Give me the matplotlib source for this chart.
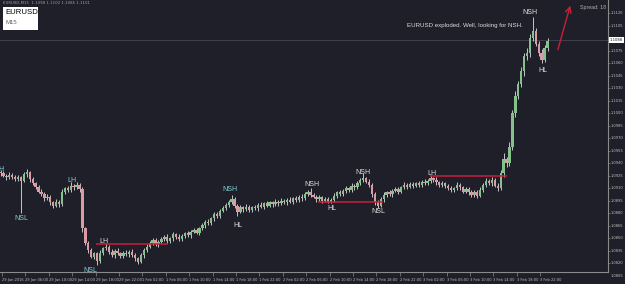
import matplotlib.pyplot as plt
import matplotlib.transforms as mtransforms
from matplotlib.patches import Rectangle

# EURUSD, 30 minute candles (29 Jan - 3 Feb 2016)
first_open = 1.0930
closes = [
    1.0928, 1.0925, 1.0923, 1.0926, 1.0924, 1.0921, 1.0923, 1.0919, 1.0927, 1.0929,
    1.0921, 1.0916, 1.0912, 1.0906, 1.0903, 1.0898, 1.0900, 1.0893, 1.0889, 1.0894,
    1.0891, 1.0906, 1.0910, 1.0908, 1.0913, 1.0911, 1.0914, 1.0909, 1.0862, 1.0845,
    1.0836, 1.0828, 1.0832, 1.0823, 1.0833, 1.0838, 1.0840, 1.0834, 1.0830, 1.0835,
    1.0832, 1.0829, 1.0833, 1.0831, 1.0834, 1.0830, 1.0826, 1.0822, 1.0830, 1.0836,
    1.0840, 1.0845, 1.0848, 1.0843, 1.0846, 1.0849, 1.0852, 1.0847, 1.0850, 1.0855,
    1.0852, 1.0849, 1.0853, 1.0856, 1.0854, 1.0858, 1.0860, 1.0857, 1.0862, 1.0866,
    1.0870, 1.0868, 1.0874, 1.0879, 1.0877, 1.0883, 1.0886, 1.0890, 1.0893, 1.0897,
    1.0889, 1.0882, 1.0887, 1.0885, 1.0888, 1.0884, 1.0887, 1.0886, 1.0890, 1.0888,
    1.0892, 1.0889, 1.0893, 1.0891, 1.0894, 1.0892, 1.0895, 1.0893, 1.0896, 1.0894,
    1.0898, 1.0896, 1.0900, 1.0898, 1.0903, 1.0905, 1.0902, 1.0900, 1.0897, 1.0899,
    1.0895, 1.0897, 1.0894, 1.0896, 1.0901, 1.0905, 1.0903, 1.0907, 1.0910, 1.0908,
    1.0913, 1.0911, 1.0916, 1.0920, 1.0922, 1.0918, 1.0914, 1.0903, 1.0893, 1.0889,
    1.0897, 1.0902, 1.0905, 1.0903, 1.0907, 1.0909, 1.0906, 1.0911, 1.0914, 1.0912,
    1.0915, 1.0913, 1.0916, 1.0914, 1.0918, 1.0916, 1.0919, 1.0922, 1.0920, 1.0917,
    1.0914, 1.0916, 1.0913, 1.0910, 1.0908, 1.0910, 1.0914, 1.0911, 1.0906, 1.0909,
    1.0905, 1.0902, 1.0906, 1.0901, 1.0908, 1.0914, 1.0919, 1.0916, 1.0920, 1.0913,
    1.0910, 1.0928, 1.0945, 1.0940, 1.0960, 1.1000, 1.1020, 1.1035, 1.1050, 1.1068,
    1.1072, 1.1090, 1.1098, 1.1083, 1.1072, 1.1064, 1.1078, 1.1087,
]
# wick lengths in pips above / below the candle body
upper_wick = [
    2, 3, 2, 3, 2, 2, 3, 2, 3, 4,
    2, 3, 2, 2, 3, 2, 3, 2, 2, 3,
    2, 3, 2, 3, 4, 2, 3, 2, 3, 2,
    2, 3, 2, 2, 3, 2, 5, 2, 3, 2,
    3, 2, 2, 3, 2, 3, 2, 2, 3, 2,
    3, 2, 3, 2, 2, 3, 2, 3, 2, 3,
    2, 3, 2, 2, 3, 2, 3, 2, 2, 3,
    2, 3, 2, 3, 2, 2, 3, 2, 3, 5,
    2, 2, 3, 2, 3, 2, 2, 3, 2, 3,
    2, 3, 2, 2, 3, 2, 3, 2, 2, 3,
    2, 3, 2, 3, 2, 3, 5, 2, 2, 3,
    2, 3, 2, 2, 3, 2, 3, 2, 3, 2,
    3, 2, 3, 2, 6, 2, 3, 2, 2, 3,
    2, 3, 2, 3, 2, 2, 3, 2, 3, 2,
    3, 2, 2, 3, 2, 3, 2, 4, 2, 3,
    2, 3, 2, 2, 3, 2, 3, 2, 2, 3,
    2, 3, 2, 2, 3, 2, 3, 2, 3, 2,
    3, 4, 7, 3, 5, 4, 6, 3, 5, 4,
    6, 5, 17, 4, 3, 5, 4, 3,
]
lower_wick = [
    3, 2, 3, 2, 3, 2, 2, 39, 2, 3,
    3, 2, 3, 2, 2, 3, 2, 3, 3, 2,
    3, 2, 3, 2, 2, 3, 2, 3, 4, 3,
    3, 2, 3, 5, 2, 3, 2, 3, 2, 3,
    2, 3, 2, 2, 3, 2, 3, 3, 2, 3,
    2, 2, 3, 2, 3, 2, 2, 3, 2, 3,
    3, 2, 2, 3, 2, 3, 2, 2, 3, 2,
    3, 2, 2, 3, 2, 3, 2, 2, 3, 2,
    3, 5, 2, 3, 2, 3, 2, 2, 3, 2,
    3, 2, 2, 3, 2, 3, 2, 2, 3, 2,
    3, 2, 2, 3, 2, 2, 3, 2, 3, 2,
    3, 2, 2, 2, 2, 3, 2, 2, 3, 2,
    2, 3, 2, 2, 3, 2, 3, 4, 3, 3,
    2, 3, 2, 2, 3, 2, 3, 2, 2, 3,
    2, 3, 2, 2, 3, 2, 2, 3, 2, 3,
    2, 2, 3, 2, 3, 2, 2, 3, 2, 2,
    3, 2, 2, 3, 2, 3, 2, 2, 3, 2,
    3, 2, 4, 5, 3, 4, 5, 3, 4, 5,
    4, 5, 4, 3, 4, 4, 3, 3,
]

time_labels = [
    "29 Jan 2016", "29 Jan 06:00", "29 Jan 10:00", "29 Jan 14:00", "29 Jan 18:00", "29 Jan 22:00",
    "1 Feb 02:00", "1 Feb 06:00", "1 Feb 10:00", "1 Feb 14:00", "1 Feb 18:00", "1 Feb 22:00",
    "2 Feb 02:00", "2 Feb 06:00", "2 Feb 10:00", "2 Feb 14:00", "2 Feb 18:00", "2 Feb 22:00",
    "3 Feb 02:00", "3 Feb 06:00", "3 Feb 10:00", "3 Feb 14:00", "3 Feb 18:00", "3 Feb 22:00",
]
price_labels = [
    1.0805, 1.0820, 1.0835, 1.0850, 1.0865, 1.0880, 1.0895, 1.0910, 1.0925, 1.0940, 1.0955,
    1.0970, 1.0985, 1.1000, 1.1015, 1.1030, 1.1045, 1.1060, 1.1075, 1.1090, 1.1105, 1.1120,
]
bid_price = 1.1088

# horizontal levels: start hour, end hour, price
levels = [(18.1, 30.4, 1.0843), (56.0, 67.1, 1.0894), (75.2, 88.3, 1.0925)]

# swing labels: text, hour, price, highlighted
swing_labels = [
    ("LH", 1.6, 1.0932, True),
    ("NSL", 5.25, 1.0874, True),
    ("LH", 13.97, 1.0919, True),
    ("NSL", 17.04, 1.0811, True),
    ("LH", 19.44, 1.0846, False),
    ("NSH", 40.97, 1.0908, True),
    ("HL", 42.34, 1.0866, False),
    ("NSH", 54.99, 1.0914, False),
    ("HL", 58.4, 1.0886, False),
    ("NSH", 63.7, 1.0929, False),
    ("NSL", 66.4, 1.0882, False),
    ("LH", 75.5, 1.0928, False),
    ("NSH", 92.25, 1.1120, False),
    ("HL", 94.5, 1.1051, False),
]

bg = "#1e1f28"
bull_col = "#86c08a"
bear_col = "#d99ca4"
wick_col = "#c4c4ca"
axis_col = "#8a8a8a"
text_col = "#c0c0c0"

fig = plt.figure(figsize=(6.25, 2.84), dpi=100, facecolor=bg)
ax = fig.add_axes([0, 12 / 284, 608 / 625, 272 / 284], facecolor=bg)

opens = [first_open] + closes[:-1]
hours = [1.75 + 0.5 * i for i in range(len(closes))]
highs = [max(o, c) + u * 0.0001 for o, c, u in zip(opens, closes, upper_wick)]
lows = [min(o, c) - d * 0.0001 for o, c, d in zip(opens, closes, lower_wick)]
bottoms = [min(o, c) for o, c in zip(opens, closes)]
heights = [max(abs(c - o), 0.00004) for o, c in zip(opens, closes)]
colors = [bull_col if c >= o else bear_col for o, c in zip(opens, closes)]

ax.vlines(hours, lows, highs, colors=wick_col, lw=0.7, zorder=2)
ax.bar(hours, heights, bottom=bottoms, width=0.4, color=colors, lw=0, zorder=3)

# bid line
ax.axhline(bid_price, color="#42454f", lw=0.6, zorder=1)

for h0, h1, p in levels:
    ax.plot([h0, h1], [p, p], color="#c8203c", lw=1.1, zorder=4, solid_capstyle="butt")

for txt, h, p, hl in swing_labels:
    ax.text(h, p, txt, color="#86d4dc" if hl else "#e2e2e2", fontsize=5,
            family="Liberation Sans", ha="center", va="center", zorder=5)

ax.set_xlim(1.658, 105.59)
ax.set_ylim(1.080972, 1.113557)

# axes frame: only right and bottom, MT4 style
for s in ["top", "left"]:
    ax.spines[s].set_visible(False)
for s in ["right", "bottom"]:
    ax.spines[s].set_color(axis_col)
    ax.spines[s].set_linewidth(0.8)

ax.set_xticks([2 + 4 * k for k in range(len(time_labels))])
ax.set_xticklabels(time_labels, fontsize=2.6, color=text_col)
for lbl in ax.get_xticklabels():
    lbl.set_ha("left")
ax.tick_params(axis="x", direction="out", length=3, width=0.5, color=axis_col, pad=1.2)

ax.yaxis.tick_right()
ax.set_yticks([p for p in price_labels if p > 1.0810])
ax.set_yticklabels([])
ax.tick_params(axis="y", direction="out", length=1.5, width=0.5, color=axis_col)
ytrans = mtransforms.blended_transform_factory(ax.transAxes, ax.transData)
for p in price_labels:
    if abs(p - 1.1090) < 1e-6:
        continue
    ax.text(1.004, p, f"{p:.4f}", transform=ytrans, fontsize=2.6, color=text_col,
            ha="left", va="center", clip_on=False)
ax.text(1.003, bid_price, f"{bid_price:.4f}", transform=ytrans, fontsize=2.7, color=bg,
        ha="left", va="center", clip_on=False,
        bbox=dict(boxstyle="square,pad=0.25", fc="white", ec="none"))

# top-left header
fig.text(3 / 625, 1 - 3 / 284, "EURUSD,M15  1.1098 1.1102 1.1085 1.1101", fontsize=2.8,
         color="#a0a0a0", ha="left", va="center")
fig.patches.append(Rectangle((3 / 625, 1 - 30 / 284), 35 / 625, 23 / 284,
                             transform=fig.transFigure, fc="white", ec="none"))
fig.text(5 / 625, 1 - 12 / 284, "EURUSD", fontsize=5.6, family="Liberation Sans",
         color="black", ha="left", va="center")
fig.text(5 / 625, 1 - 22 / 284, "M15", fontsize=4.3, family="Liberation Sans",
         color="#606060", ha="left", va="center")

fig.text(407 / 625, 1 - 25 / 284, "EURUSD exploded. Well, looking for NSH.", fontsize=4.4,
         family="Liberation Sans", color="#dcdcdc", ha="left", va="center")
fig.text(580 / 625, 1 - 7 / 284, "Spread: 18", fontsize=3.8, family="Liberation Sans",
         color="#b0b0b0", ha="left", va="center")

ax.annotate("", xy=(99.26, 1.1132), xytext=(96.9, 1.1073),
            arrowprops=dict(arrowstyle="->,head_length=0.4,head_width=0.2",
                            color="#c8203c", lw=1.0), annotation_clip=False)

fig.savefig("out.png", dpi=100, facecolor=bg)
